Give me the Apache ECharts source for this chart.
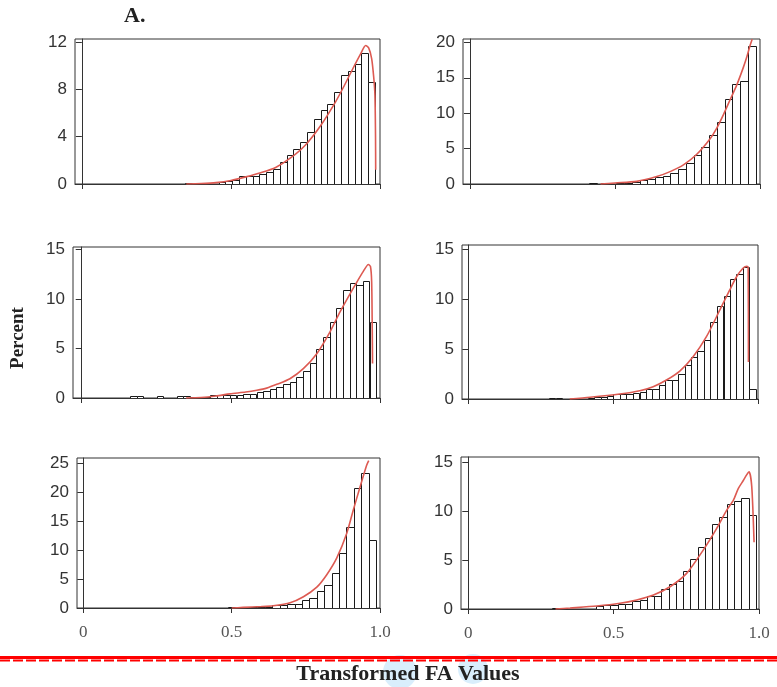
<!DOCTYPE html>
<html><head><meta charset="utf-8">
<script src="https://cdn.jsdelivr.net/npm/echarts@6/dist/echarts.min.js"></script>
<style>html,body{margin:0;padding:0;background:#fff}#c{width:777px;height:687px}</style>
</head><body><div id="c"></div>
<script>
// ---------------- DATA ----------------
const xTickValues = [0, 0.5, 1.0];

// Panel 1 (top-left)
const p1BinWidth = 0.0228;
const p1BinStart = [0.345, 0.459, 0.481, 0.504, 0.527, 0.550, 0.573, 0.595, 0.618, 0.641, 0.664, 0.687, 0.709, 0.732, 0.755, 0.778, 0.801, 0.823, 0.846, 0.869, 0.892, 0.915, 0.937, 0.960];
const p1Pct      = [0.08, 0.15, 0.25, 0.32, 0.65, 0.65, 0.65, 0.85, 1.02, 1.25, 1.9, 2.48, 2.98, 3.55, 4.38, 5.48, 6.22, 6.8, 7.8, 9.2, 9.55, 10.1, 11.05, 8.65];
const p1CurveX   = [0.35, 0.40, 0.45, 0.50, 0.55, 0.60, 0.65, 0.70, 0.75, 0.80, 0.85, 0.88, 0.91, 0.935, 0.952, 0.962, 0.972, 0.979, 0.983, 0.985, 0.9855];
const p1CurveY   = [0, 0.04, 0.12, 0.3, 0.6, 0.95, 1.4, 2.2, 3.3, 4.9, 6.9, 8.3, 9.8, 11.0, 11.7, 11.5, 10.6, 9.0, 7.5, 4.0, 1.2];
const p1YTicks   = [0, 4, 8, 12];

// Panel 2 (top-right)
const p2BinWidth = 0.0267;
const p2BinStart = [0.412, 0.451, 0.505, 0.531, 0.558, 0.585, 0.611, 0.638, 0.665, 0.691, 0.718, 0.745, 0.771, 0.798, 0.825, 0.852, 0.878, 0.905, 0.932, 0.958];
const p2Pct      = [0.2, 0.15, 0.1, 0.12, 0.3, 0.5, 0.65, 0.95, 1.2, 1.55, 2.15, 2.97, 4.04, 5.2, 6.96, 8.75, 12.0, 14.1, 14.6, 19.5];
const p2CurveX   = [0.45, 0.50, 0.575, 0.644, 0.69, 0.736, 0.782, 0.828, 0.851, 0.874, 0.897, 0.92, 0.942, 0.955, 0.966, 0.973];
const p2CurveY   = [0, 0.15, 0.37, 1.05, 1.75, 2.7, 4.2, 6.4, 7.9, 9.8, 11.9, 14.0, 16.4, 18.0, 19.6, 20.45];
const p2YTicks   = [0, 5, 10, 15, 20];

// Panel 3 (middle-left)
const p3BinWidth = 0.0223;
const p3BinStart = [0.162, 0.184, 0.251, 0.318, 0.340, 0.363, 0.385, 0.407, 0.430, 0.452, 0.474, 0.496, 0.519, 0.541, 0.563, 0.586, 0.608, 0.630, 0.653, 0.675, 0.697, 0.719, 0.742, 0.764, 0.786, 0.809, 0.831, 0.853, 0.876, 0.898, 0.920, 0.942, 0.965];
const p3Pct      = [0.25, 0.25, 0.2, 0.2, 0.2, 0.1, 0.1, 0.1, 0.28, 0.3, 0.3, 0.3, 0.32, 0.37, 0.44, 0.58, 0.75, 0.9, 1.08, 1.45, 1.6, 2.15, 2.77, 3.58, 4.92, 6.17, 7.72, 9.14, 10.96, 11.65, 11.45, 11.8, 7.7];
const p3CurveX   = [0.35, 0.40, 0.45, 0.497, 0.55, 0.587, 0.62, 0.654, 0.698, 0.743, 0.788, 0.832, 0.866, 0.90, 0.922, 0.944, 0.961, 0.968, 0.972, 0.974, 0.975];
const p3CurveY   = [0, 0.05, 0.2, 0.42, 0.6, 0.78, 1.0, 1.38, 1.95, 2.97, 4.48, 6.67, 8.7, 10.55, 11.7, 12.8, 13.5, 13.3, 11.8, 7.0, 3.5];
const p3YTicks   = [0, 5, 10, 15];

// Panel 4 (middle-right)
const p4BinWidth = 0.0223;
const p4BinStart = [0.278, 0.301, 0.412, 0.435, 0.457, 0.479, 0.501, 0.524, 0.546, 0.568, 0.591, 0.613, 0.635, 0.658, 0.680, 0.702, 0.724, 0.747, 0.769, 0.791, 0.814, 0.836, 0.858, 0.881, 0.903, 0.925, 0.947, 0.970];
const p4Pct      = [0.1, 0.1, 0.1, 0.22, 0.25, 0.33, 0.47, 0.5, 0.53, 0.6, 0.73, 0.97, 0.97, 1.37, 1.9, 1.9, 2.53, 3.45, 4.16, 4.85, 5.87, 7.75, 9.27, 10.37, 12.02, 12.5, 13.26, 0.97];
const p4CurveX   = [0.35, 0.42, 0.523, 0.592, 0.638, 0.684, 0.73, 0.776, 0.822, 0.868, 0.902, 0.925, 0.948, 0.962, 0.966, 0.967];
const p4CurveY   = [0, 0.17, 0.5, 0.83, 1.23, 1.9, 2.8, 4.24, 6.24, 8.9, 10.9, 12.2, 13.1, 13.3, 13.2, 3.7];
const p4YTicks   = [0, 5, 10, 15];

// Panel 5 (bottom-left)
const p5BinWidth = 0.025;
const p5BinStart = [0.487, 0.537, 0.562, 0.587, 0.612, 0.637, 0.662, 0.687, 0.712, 0.737, 0.762, 0.787, 0.812, 0.837, 0.862, 0.887, 0.912, 0.937, 0.962];
const p5Pct      = [0.2, 0.12, 0.1, 0.1, 0.15, 0.47, 0.5, 0.69, 0.69, 1.35, 1.72, 2.87, 3.9, 6.03, 9.5, 13.9, 20.7, 23.35, 11.65];
const p5CurveX   = [0.50, 0.539, 0.60, 0.64, 0.697, 0.742, 0.787, 0.82, 0.854, 0.888, 0.91, 0.933, 0.955, 0.962];
const p5CurveY   = [0, 0.1, 0.25, 0.4, 0.92, 1.95, 3.6, 5.7, 8.6, 12.9, 16.9, 20.9, 24.6, 25.4];
const p5YTicks   = [0, 5, 10, 15, 20, 25];

// Panel 6 (bottom-right)
const p6BinWidth = 0.025;
const p6BinStart = [0.289, 0.314, 0.439, 0.464, 0.489, 0.514, 0.539, 0.564, 0.589, 0.614, 0.639, 0.664, 0.689, 0.714, 0.739, 0.764, 0.789, 0.814, 0.839, 0.864, 0.889, 0.914, 0.939, 0.964];
const p6Pct      = [0.1, 0.1, 0.34, 0.41, 0.41, 0.51, 0.51, 0.78, 0.92, 1.36, 1.36, 2.04, 2.5, 2.89, 3.87, 5.12, 6.28, 7.28, 8.63, 9.35, 10.68, 11.05, 11.37, 9.57];
const p6CurveX   = [0.30, 0.35, 0.442, 0.522, 0.579, 0.637, 0.694, 0.751, 0.808, 0.854, 0.889, 0.912, 0.929, 0.946, 0.958, 0.966, 0.975, 0.983];
const p6CurveY   = [0, 0.1, 0.3, 0.58, 0.92, 1.43, 2.27, 3.63, 6.0, 8.2, 10.08, 11.1, 12.3, 13.1, 13.7, 14.0, 12.5, 6.8];
const p6YTicks   = [0, 5, 10, 15];

const titleText = 'A.';
const yAxisTitle = 'Percent';
const xAxisTitle = 'Transformed FA Values';

// ---------------- LAYOUT ----------------
const panels = [
  {start:p1BinStart, w:p1BinWidth, pct:p1Pct, cx:p1CurveX, cy:p1CurveY, yt:p1YTicks, left:75,  top:39,  width:305, height:145, xmin:-0.023,  ymax:12.25, xl:false},
  {start:p2BinStart, w:p2BinWidth, pct:p2Pct, cx:p2CurveX, cy:p2CurveY, yt:p2YTicks, left:463, top:39,  width:297, height:145, xmin:-0.0241, ymax:20.48, xl:false},
  {start:p3BinStart, w:p3BinWidth, pct:p3Pct, cx:p3CurveX, cy:p3CurveY, yt:p3YTicks, left:73,  top:247, width:307, height:151, xmin:-0.0292, ymax:15.27, xl:false},
  {start:p4BinStart, w:p4BinWidth, pct:p4Pct, cx:p4CurveX, cy:p4CurveY, yt:p4YTicks, left:462, top:245, width:296, height:154, xmin:-0.0218, ymax:15.43, xl:false},
  {start:p5BinStart, w:p5BinWidth, pct:p5Pct, cx:p5CurveX, cy:p5CurveY, yt:p5YTicks, left:77,  top:458, width:303, height:150, xmin:-0.0212, ymax:25.86, xl:true},
  {start:p6BinStart, w:p6BinWidth, pct:p6Pct, cx:p6CurveX, cy:p6CurveY, yt:p6YTicks, left:461, top:457, width:298, height:152, xmin:-0.0251, ymax:15.5,  xl:true}
];

const AXIS_COLOR = '#333';
const grids = [], xAxes = [], yAxes = [], series = [];

function renderBar(params, api) {
  const a = api.coord([api.value(0), api.value(2)]);
  const b = api.coord([api.value(1), 0]);
  const x0 = Math.round(a[0]) + 0.5, x1 = Math.round(b[0]) + 0.5;
  const y0 = Math.round(a[1]) + 0.5, y1 = Math.round(b[1]) + 0.5;
  return {type:'rect', shape:{x:x0, y:y0, width:x1 - x0, height:Math.max(0, y1 - y0)},
          style:{fill:'#fff', stroke:'#1a1a1a', lineWidth:1}};
}

panels.forEach((p, i) => {
  grids.push({left:p.left, top:p.top, width:p.width, height:p.height, show:true,
              borderColor:AXIS_COLOR, borderWidth:1, backgroundColor:'transparent', containLabel:false});
  xAxes.push({type:'value', gridIndex:i, min:p.xmin, max:1.0, position:'bottom',
    axisLine:{show:true, onZero:false, lineStyle:{color:AXIS_COLOR, width:1}},
    axisTick:{show:true, inside:false, length:5, customValues:xTickValues, lineStyle:{color:AXIS_COLOR}},
    axisLabel:{show:p.xl, customValues:xTickValues, margin:16, color:'#555',
      fontFamily:'"Liberation Serif","DejaVu Serif",serif', fontSize:17,
      formatter: v => (v === 0 ? '0' : v.toFixed(1))},
    splitLine:{show:false}});
  yAxes.push({type:'value', gridIndex:i, min:0, max:p.ymax,
    axisLine:{show:true, lineStyle:{color:AXIS_COLOR, width:1}},
    axisTick:{show:true, inside:false, length:6, customValues:p.yt, lineStyle:{color:AXIS_COLOR}},
    axisLabel:{show:true, customValues:p.yt, margin:8, color:'#333',
      fontFamily:'"Liberation Sans",Arial,sans-serif', fontSize:17},
    splitLine:{show:false}});
  const bars = p.start.map((s, k) => [s, s + p.w, p.pct[k]]);
  series.push({type:'custom', xAxisIndex:i, yAxisIndex:i, data:bars, renderItem:renderBar,
    encode:{x:[0, 1], y:2}, clip:true, z:2, silent:true});
  series.push({type:'line', xAxisIndex:i, yAxisIndex:i, data:p.cx.map((x, k) => [x, p.cy[k]]),
    showSymbol:false, smooth:0.25, z:3, silent:true,
    lineStyle:{color:'#dd5a52', width:1.6}});
});

const chart = echarts.init(document.getElementById('c'), null, {renderer:'canvas'});
chart.setOption({
  animation:false,
  backgroundColor:'#fff',
  grid:grids, xAxis:xAxes, yAxis:yAxes, series:series,
  graphic:[
    {type:'text', left:124, top:5, style:{text:titleText, font:'bold 22px "Liberation Serif", serif', fill:'#222'}},
    {type:'text', x:18, y:338, rotation:Math.PI/2, style:{text:yAxisTitle, font:'bold 19px "Liberation Serif", serif', fill:'#222', align:'center', verticalAlign:'middle'}},
    {type:'line', shape:{x1:0, y1:657.5, x2:777, y2:657.5}, style:{stroke:'#ff0000', lineWidth:3}},
    {type:'line', shape:{x1:0, y1:660.5, x2:777, y2:660.5}, style:{stroke:'#ff0000', lineWidth:2, lineDash:[10, 3]}},
    {type:'circle', shape:{cx:400, cy:672, r:17}, style:{fill:'#d9eefc'}, z:-1},
    {type:'circle', shape:{cx:473, cy:669, r:15}, style:{fill:'#d9eefc'}, z:-1},
    {type:'text', x:408, y:674, style:{text:xAxisTitle, font:'bold 22px "Liberation Serif", serif', fill:'#222', align:'center', verticalAlign:'middle'}}
  ]
});
</script>
</body></html>
